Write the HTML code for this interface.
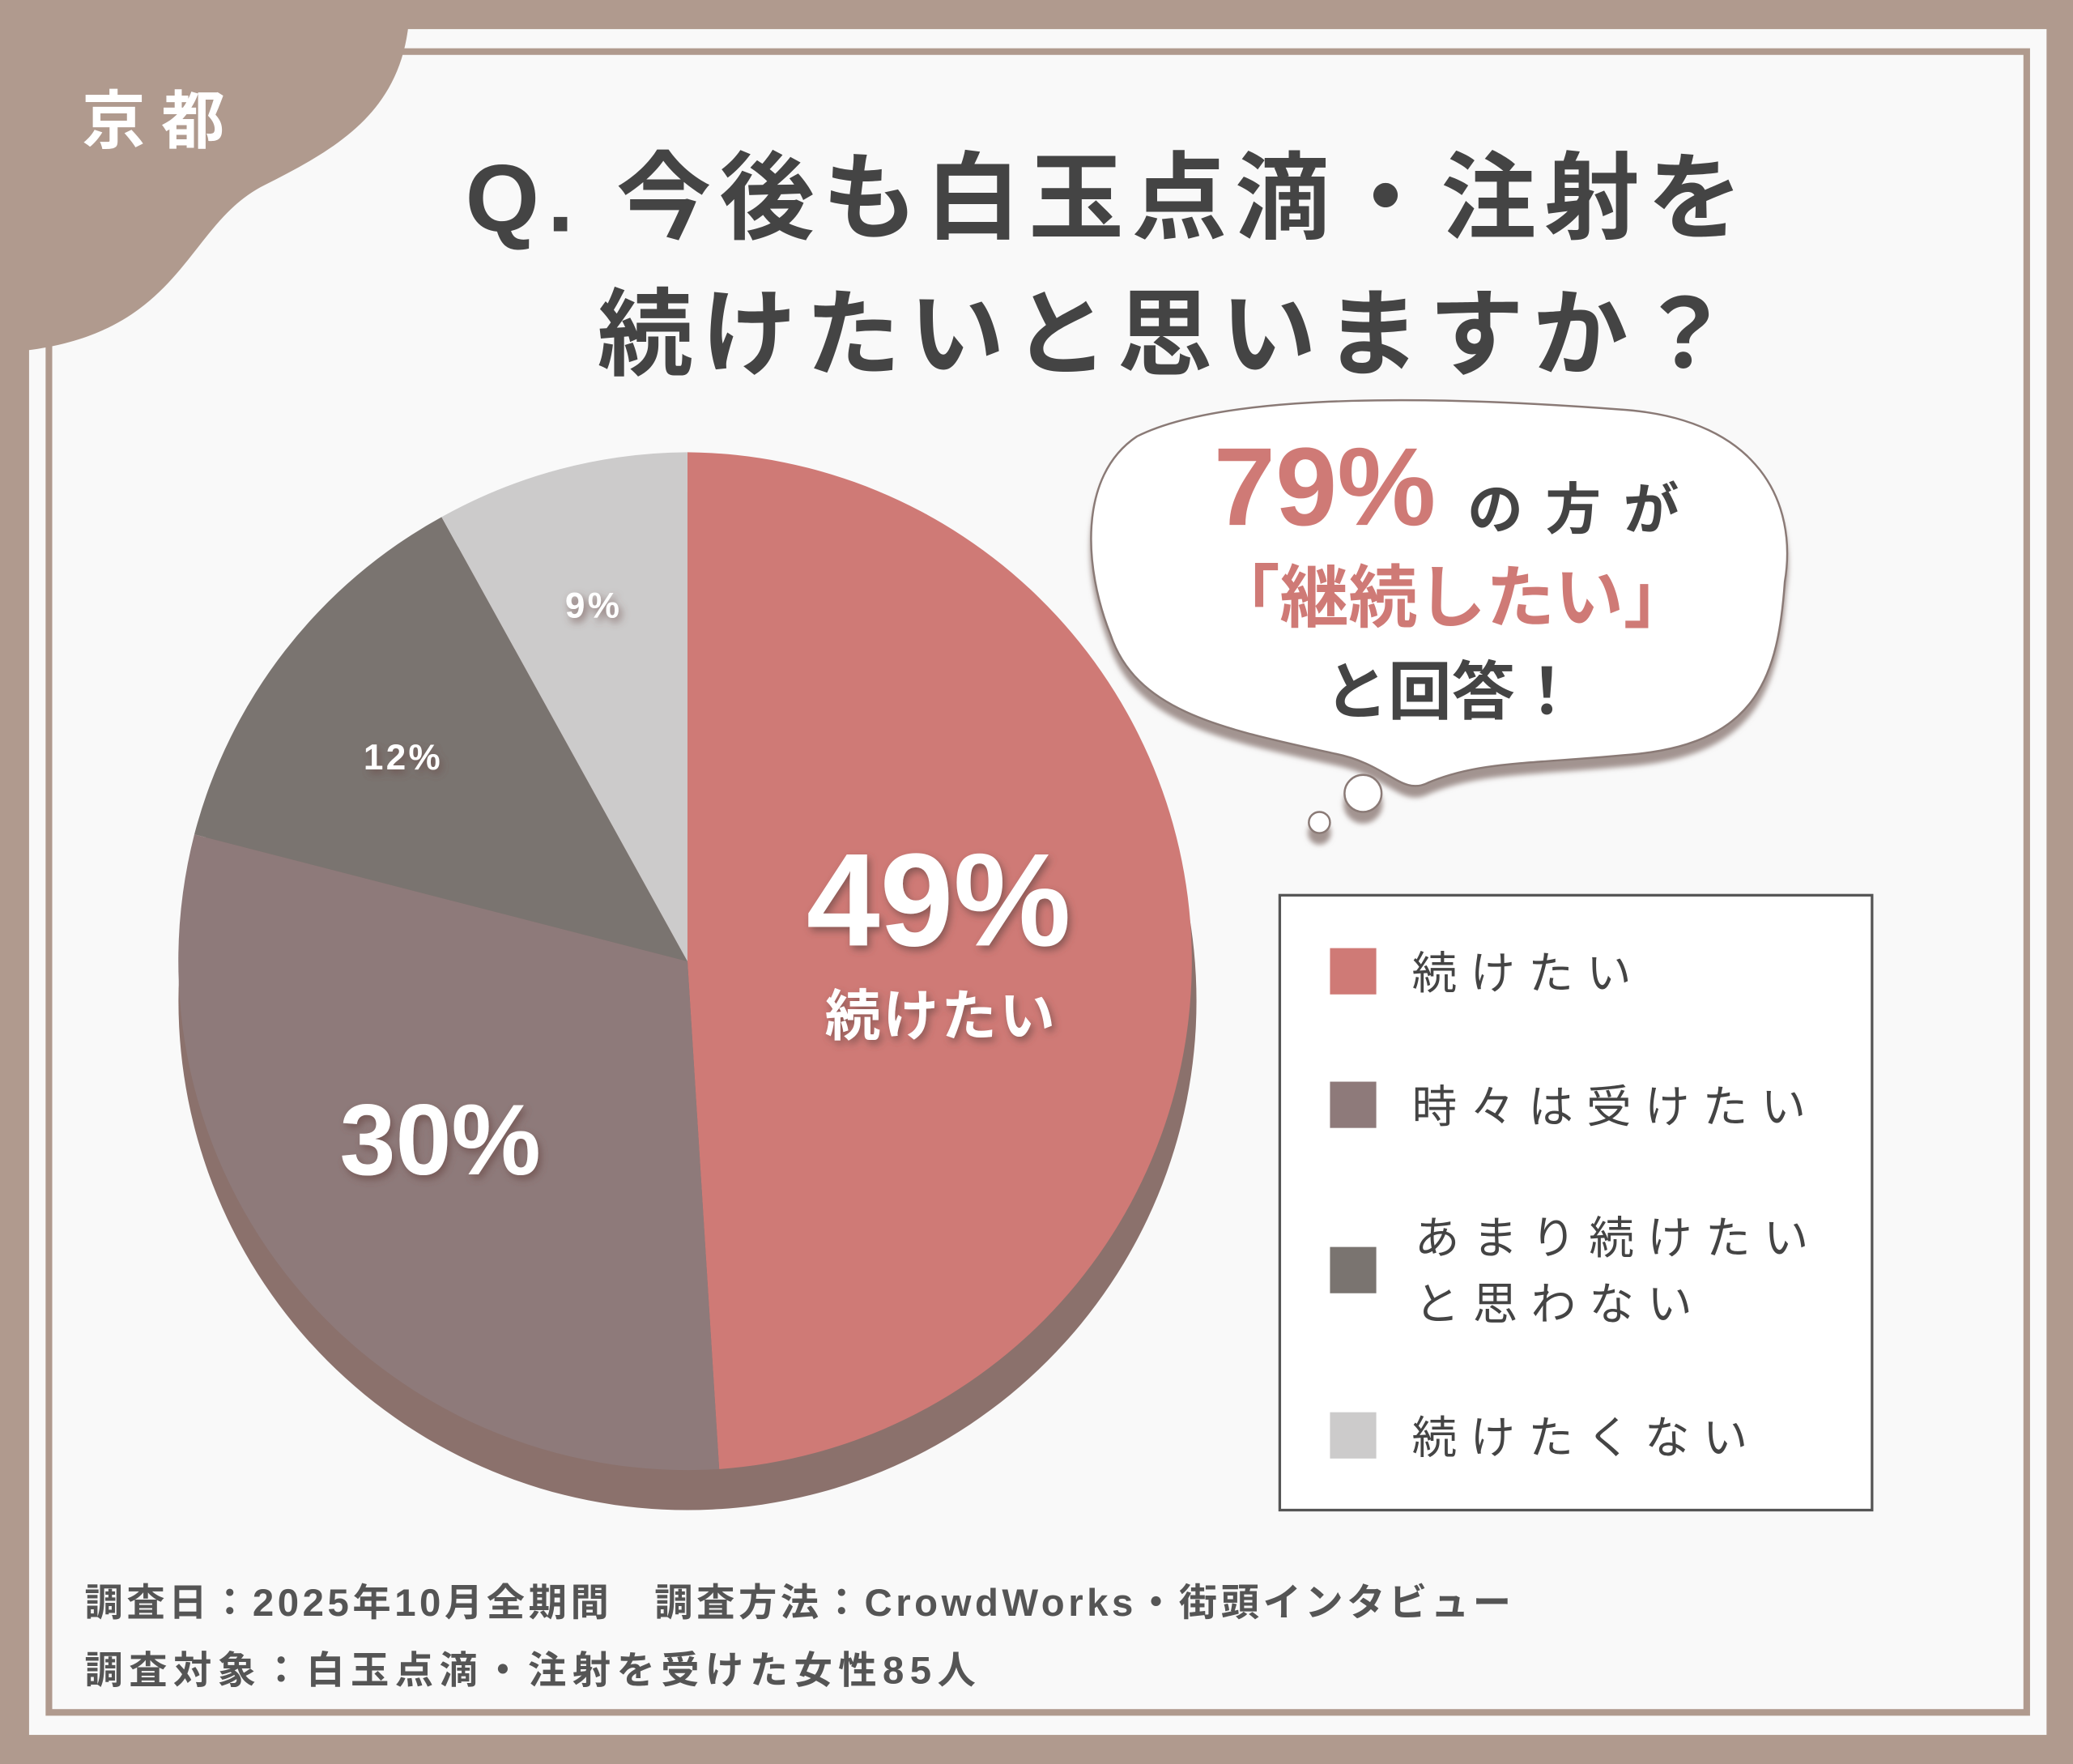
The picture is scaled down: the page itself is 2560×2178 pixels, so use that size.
<!DOCTYPE html>
<html><head><meta charset="utf-8"><style>
html,body{margin:0;padding:0;background:#b09a8e;}
svg{display:block}
text{font-family:"Liberation Sans","Noto Sans CJK JP",sans-serif;}
</style></head><body>
<svg width="2560" height="2178" viewBox="0 0 1568 1334" xmlns="http://www.w3.org/2000/svg">
<defs>
<filter id="sh" x="-20%" y="-20%" width="140%" height="140%"><feDropShadow dx="2" dy="3" stdDeviation="3" flood-color="#6b4a44" flood-opacity="0.7"/></filter>
<filter id="bs" x="-10%" y="-10%" width="120%" height="130%"><feDropShadow dx="0" dy="8" stdDeviation="2" flood-color="#8c7a76" flood-opacity="0.8"/></filter>
</defs>
<rect x="0" y="0" width="1568" height="1334" fill="#b09a8e"/>
<rect x="22" y="22" width="1526" height="1290" fill="#f9f9f9"/>
<rect x="37" y="39" width="1496" height="1256" fill="none" stroke="#b09a8e" stroke-width="5"/>
<path d="M0,0 H310 C310,80 260,110 200,140 C140,170 140,250 20,265 H0 Z" fill="#b09a8e"/>
<text x="62" y="108" font-size="48" font-weight="bold" fill="#fff" textLength="108" lengthAdjust="spacing">京都</text>
<text x="352" y="175" font-size="72" font-weight="bold" fill="#444" textLength="966" lengthAdjust="spacing">Q. 今後も白玉点滴・注射を</text>
<text x="452" y="278" font-size="72" font-weight="bold" fill="#444" textLength="858" lengthAdjust="spacing">続けたいと思いますか？</text>
<circle cx="520" cy="757" r="385" fill="#8b716c"/>
<path d="M520,727 L520,342 A385,385 0 0 1 544,1111 Z" fill="#cf7a76"/>
<path d="M520,727 L544,1111 A385,385 0 0 1 147,631 Z" fill="#8e7a7a"/>
<path d="M520,727 L147,631 A385,385 0 0 1 334,391 Z" fill="#7a7470"/>
<path d="M520,727 L334,391 A385,385 0 0 1 520,342 Z" fill="#cccbcb"/>
<g fill="#fff" font-weight="bold" text-anchor="middle" filter="url(#sh)">
<text x="710" y="715" font-size="100">49%</text>
<text x="712" y="783" font-size="42" letter-spacing="2">続けたい</text>
<text x="333" y="888" font-size="76">30%</text>
<text x="305" y="582" font-size="27" letter-spacing="2">12%</text>
<text x="449" y="467" font-size="27" letter-spacing="2">9%</text>
</g>
<g filter="url(#bs)">
<path d="M860,330 C930,295 1100,300 1230,310 C1330,318 1360,380 1350,440 C1345,510 1330,560 1240,570 C1160,578 1120,575 1080,592 C1060,602 1050,578 1010,570 C930,552 860,540 840,480 C820,430 815,360 860,330 Z" fill="#fff" stroke="#8a7a76" stroke-width="1.5"/>
<circle cx="1031" cy="600" r="14" fill="#fff" stroke="#8a7a76" stroke-width="1.5"/>
<circle cx="998" cy="622" r="8" fill="#fff" stroke="#8a7a76" stroke-width="1.5"/>
</g>
<text x="918" y="397" font-size="84" font-weight="bold" fill="#cf7a76">79%</text>
<text x="1110" y="400" font-size="42" font-weight="bold" fill="#444" textLength="160" lengthAdjust="spacing">の方が</text>
<text x="1098" y="470" font-size="52" font-weight="bold" fill="#cf7a76" text-anchor="middle">「継続したい」</text>
<text x="1098" y="540" font-size="48" font-weight="bold" fill="#444" text-anchor="middle">と回答！</text>
<rect x="968" y="677" width="448" height="465" fill="#fff" stroke="#555" stroke-width="2"/>
<rect x="1006" y="717" width="35" height="35" fill="#cf7a76"/>
<rect x="1006" y="818" width="35" height="35" fill="#8e7a7a"/>
<rect x="1006" y="943" width="35" height="35" fill="#7a7470"/>
<rect x="1006" y="1068" width="35" height="35" fill="#cccbcb"/>
<g font-size="34" fill="#444" letter-spacing="10">
<text x="1068" y="748">続けたい</text>
<text x="1068" y="849">時々は受けたい</text>
<text x="1070" y="948">あまり続けたい</text>
<text x="1070" y="998">と思わない</text>
<text x="1068" y="1099">続けたくない</text>
</g>
<g font-size="29" font-weight="bold" fill="#555">
<text x="64" y="1222" textLength="1079" lengthAdjust="spacing">調査日：2025年10月全期間　調査方法：CrowdWorks・街頭インタビュー</text>
<text x="64" y="1273" textLength="674" lengthAdjust="spacing">調査対象：白玉点滴・注射を受けた女性85人</text>
</g>
</svg>
</body></html>
